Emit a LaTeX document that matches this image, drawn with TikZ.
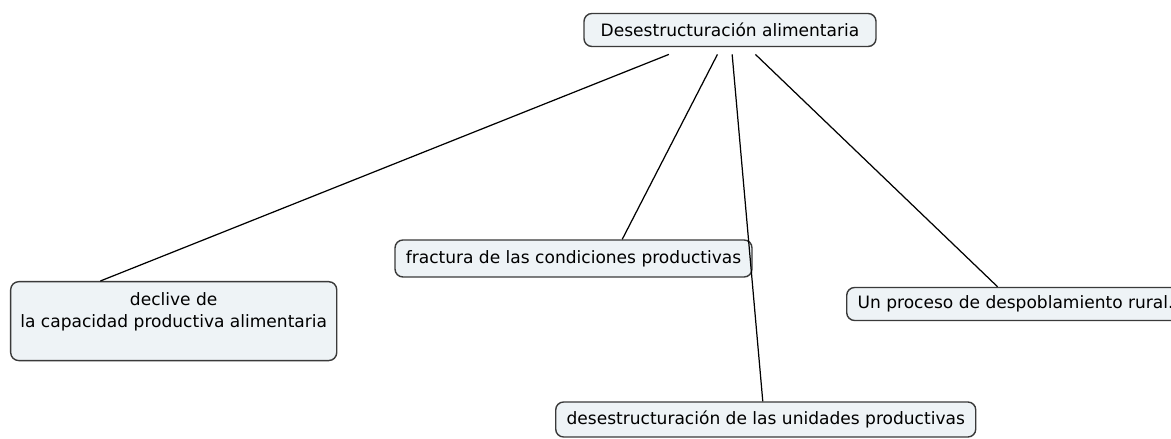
\documentclass[tikz,border=0pt]{standalone}
\usepackage{fontspec}
\setmainfont{DejaVu Sans}
\usetikzlibrary{calc}
\definecolor{cfill}{HTML}{EEF3F6}
\definecolor{cline}{HTML}{3A3A3A}
\tikzset{%
  cbox/.style={draw=cline,fill=cfill,rounded corners=4.5pt,line width=0.8pt,
    font=\fontsize{9.7}{12.5}\selectfont,inner sep=0pt,minimum height=0.66cm,align=center},
  cedge/.style={draw=black,line width=0.7pt}
}
\begin{document}
\begin{tikzpicture}
    \useasboundingbox (0,0) rectangle (23.42,8.78);
    \path
      (14.6,8.18) node (top)[cbox,minimum width=5.84cm,outer ysep=4.5pt]{Desestructuración alimentaria}
      (0.2,3.16) node (declive)[cbox,anchor=north west,minimum width=6.52cm,inner ysep=6pt,text depth=13pt]{declive de\\la capacidad productiva alimentaria}
      (11.47,3.61) node (fractura)[cbox,minimum width=7.14cm,minimum height=0.74cm]{fractura de las condiciones productivas}
      (16.92,2.70) node (despob)[cbox,anchor=west,inner xsep=6.2pt]{Un proceso de despoblamiento rural.}
      (11.1,0.39) node (unidades)[cbox,anchor=west,inner xsep=6.2pt,minimum height=0.7cm]{desestructuración de las unidades productivas};
    \coordinate (d1) at ($(declive.north west)!0.276!(declive.north east)$);
    \coordinate (f1) at ($(fractura.north west)!0.636!(fractura.north east)$);
    \coordinate (u1) at ($(unidades.north west)!0.493!(unidades.north east)$);
    \coordinate (p1) at ($(despob.north west)!0.447!(despob.north east)$);
    \draw[cedge] (top) -- (d1);
    \draw[cedge] (top) -- (f1);
    \draw[cedge] (top) -- (u1);
    \draw[cedge] (top) -- (p1);
  \end{tikzpicture}
\end{document}
